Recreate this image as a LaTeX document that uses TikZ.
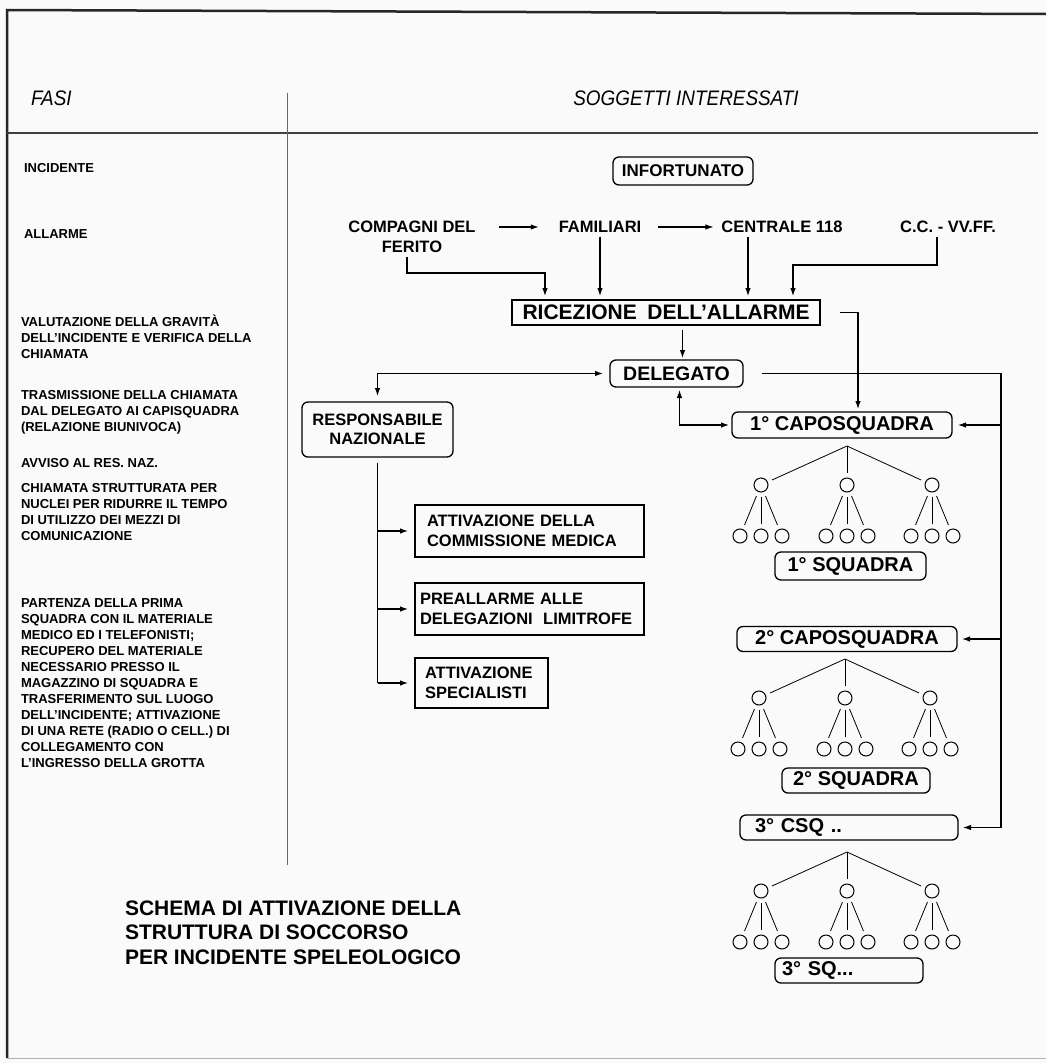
\documentclass[tikz,border=0pt]{standalone}
\usepackage{fontspec}
\setmainfont{Liberation Sans}
\newfontfamily\hdrfont{Liberation Sans}[FakeStretch=0.9]
\usetikzlibrary{arrows.meta,calc}
\begin{document}
\begin{tikzpicture}[x=1pt,y=-1pt,
  every node/.style={inner sep=0pt, outer sep=0pt},
  rbox/.style={draw, line width=1.3pt, rounded corners=6pt, font=\bfseries\fontsize{20}{22}\selectfont},
  sbox/.style={draw, line width=1.1pt, align=left, font=\bfseries\fontsize{16.5}{20}\selectfont},
  conn/.style={line width=1.1pt, -{Latex[length=8pt,width=5.5pt]}},
  dconn/.style={line width=1.1pt, {Latex[length=8pt,width=5.5pt]}-{Latex[length=8pt,width=5.5pt]}},
  plainline/.style={line width=1.1pt},
  leaf/.style={draw, circle, line width=1pt, minimum size=14pt},
  tl/.style={line width=0.8pt},
  phase/.style={anchor=north west, align=left, font=\bfseries\fontsize{13}{16}\selectfont},
  lbl/.style={font=\bfseries\fontsize{16.5}{20}\selectfont, align=center},
  hdr/.style={font=\hdrfont\itshape\fontsize{21}{24}\selectfont},
]
\useasboundingbox (0,0) rectangle (1046,1063);
\fill[white!98!black] (0,0) rectangle (1046,1063);
% frame
\draw[line width=2.5pt, black!85] (7,1058) -- (7,10) -- (1046,14);
\draw[line width=1pt, black!30] (7,1058) -- (1046,1058);
\draw[line width=1.4pt, black!75] (7,133) -- (1038,133);
\draw[line width=0.8pt, black!60] (287,93) -- (287,865);
% headers
\node[hdr, anchor=base west] (fasi) at (31,105) {FASI};
\node[hdr, anchor=base] (sogg) at (686,105) {SOGGETTI INTERESSATI};
% phases
\node[anchor=base west, font=\bfseries\fontsize{13}{16}\selectfont] (inc) at (24,172.5) {INCIDENTE};
\node[anchor=base west, font=\bfseries\fontsize{13}{16}\selectfont] (all) at (24,238.5) {ALLARME};
\node[phase] (ph1) at (21,314.8) {\strut VALUTAZIONE DELLA GRAVITÀ\\DELL'INCIDENTE E VERIFICA DELLA\\CHIAMATA};
\node[phase] (ph2) at (21,387.8) {\strut TRASMISSIONE DELLA CHIAMATA\\DAL DELEGATO AI CAPISQUADRA\\(RELAZIONE BIUNIVOCA)};
\node[anchor=base west, font=\bfseries\fontsize{13}{16}\selectfont] (ph3) at (21,467) {AVVISO AL RES. NAZ.};
\node[phase] (ph4) at (21,481.3) {\strut CHIAMATA STRUTTURATA PER\\NUCLEI PER RIDURRE IL TEMPO\\DI UTILIZZO DEI MEZZI DI\\COMUNICAZIONE};
\node[phase] (ph5) at (21,595.8) {\strut PARTENZA DELLA PRIMA\\SQUADRA CON IL MATERIALE\\MEDICO ED I TELEFONISTI;\\RECUPERO DEL MATERIALE\\NECESSARIO PRESSO IL\\MAGAZZINO DI SQUADRA E\\TRASFERIMENTO SUL LUOGO\\DELL'INCIDENTE; ATTIVAZIONE\\DI UNA RETE (RADIO O CELL.) DI\\COLLEGAMENTO CON\\L'INGRESSO DELLA GROTTA};
% title
\node[anchor=north west, align=left, font=\bfseries\fontsize{21}{24.5}\selectfont] (title) at (125,898.3) {\strut SCHEMA DI ATTIVAZIONE DELLA\\STRUTTURA DI SOCCORSO\\PER INCIDENTE SPELEOLOGICO};
% top
\node[rbox, minimum width=140pt, minimum height=28pt, font=\bfseries\fontsize{17}{20}\selectfont] (inf) at (683,171) {INFORTUNATO};
\node[lbl] (comp) at (412,237) {COMPAGNI DEL\\FERITO};
\node[lbl] (fam) at (600,227) {FAMILIARI};
\node[lbl] (cent) at (782,227) {CENTRALE 118};
\node[lbl] (cc) at (948,227) {C.C. - VV.FF.};
\node[draw, line width=1.3pt, minimum width=308pt, minimum height=25pt, font=\bfseries\fontsize{21}{24}\selectfont] (ric) at (666,312.5) {RICEZIONE\hspace{0.5em}DELL'ALLARME};
\node[rbox, minimum width=133pt, minimum height=27pt, font=\bfseries\fontsize{19.5}{22}\selectfont] (del) at (676.5,373.5) {DELEGATO};
\node[rbox, minimum width=151pt, minimum height=55pt, font=\bfseries\fontsize{16.5}{18.5}\selectfont, align=center] (resp) at (377.5,429.5) {RESPONSABILE\\NAZIONALE};
\node[sbox, inner xsep=12pt, text width=205pt, minimum height=52pt] (com) at (529.5,531) {ATTIVAZIONE DELLA\\COMMISSIONE MEDICA};
\node[sbox, inner xsep=5pt, text width=219pt, minimum height=52pt] (pre) at (529.5,609) {PREALLARME ALLE\\DELEGAZIONI\hspace{0.3em} LIMITROFE};
\node[sbox, inner xsep=10pt, text width=113pt, minimum height=50pt] (spec) at (481.5,683) {ATTIVAZIONE\\SPECIALISTI};
\node[rbox, minimum width=220pt, minimum height=26pt] (capo1) at (842,425) {1° CAPOSQUADRA};
\node[rbox, minimum width=151pt, minimum height=28pt] (sq1) at (850.5,566) {1° SQUADRA};
\node[rbox, minimum width=220pt, minimum height=25pt] (capo2) at (847,639) {2° CAPOSQUADRA};
\node[rbox, minimum width=148pt, minimum height=25pt] (sq2) at (856,780.5) {2° SQUADRA};
\node[rbox, inner xsep=15pt, text width=188pt, align=left, minimum height=25pt] (csq3) at (849,827.5) {3° CSQ ..};
\node[rbox, inner xsep=7pt, text width=134pt, align=left, minimum height=25pt] (sq3) at (849,970.5) {3° SQ...};
% alarm arrows
\draw[conn, shorten <=23pt, shorten >=20pt] (comp.east |- fam.center) -- (fam.west);
\draw[conn, shorten <=17pt, shorten >=8pt] (fam.east) -- (cent.west);
\draw[conn, shorten >=4pt] ($(comp.south)+(-5,4)$) |- ($(ric.north west)+(33,-27)$) -- ($(ric.north west)+(33,0)$);
\draw[conn, shorten <=4pt, shorten >=4pt] (fam.south) -- (fam.south |- ric.north);
\draw[conn, shorten <=4pt, shorten >=4pt] ($(cent.south)+(-34,0)$) -- ($(cent.south |- ric.north)+(-34,0)$);
\draw[conn, shorten <=4pt, shorten >=4pt] ($(cc.south)+(-11,0)$) |- ($(ric.north east)+(-27,-35)$) -- ($(ric.north east)+(-27,0)$);
% ricezione / delegato
\draw[conn, shorten <=5pt, shorten >=2pt] ($(del.north |- ric.south)+(6,0)$) -- ($(del.north)+(6,0)$);
\draw[conn, shorten >=3pt] ($(ric.east)+(20,0)$) -| ($(capo1.north)+(16,0)$);
\draw[dconn, shorten <=6pt, shorten >=7pt] (resp.north) |- (del.west);
\draw[dconn, shorten <=3pt, shorten >=3pt] ($(del.south)+(3,0)$) |- (capo1.west);
\coordinate (rx) at (1001,0);
\draw[conn, shorten >=5pt] ($(del.east)+(19,0)$) -| (rx |- csq3.east) -- (csq3.east);
\draw[conn, shorten >=6pt] (rx |- capo1.east) -- (capo1.east);
\draw[conn, shorten >=5pt] (rx |- capo2.east) -- (capo2.east);
% responsabile
\draw[plainline] ($(resp.south)+(0,6)$) -- (resp.south |- spec.west);
\draw[conn, shorten >=7pt] (resp.south |- com.west) -- (com.west);
\draw[conn, shorten >=7pt] (resp.south |- pre.west) -- (pre.west);
\draw[conn, shorten >=7pt] (resp.south |- spec.west) -- (spec.west);
% trees
\foreach \t/\cx/\r in {1/847/446, 2/845/659, 3/847/852} {
  \coordinate (root\t) at (\cx,\r);
  \foreach \i/\dx in {a/-86, b/0, c/85} {
    \node[leaf] (n\t\i) at (\cx+\dx,\r+39) {};
    \draw[tl, shorten >=5pt] (root\t) -- (n\t\i);
    \foreach \j/\ex in {1/-21, 2/0, 3/21} {
      \node[leaf] (n\t\i\j) at (\cx+\dx+\ex,\r+90) {};
      \draw[tl, shorten <=5pt, shorten >=5pt] (n\t\i) -- (n\t\i\j);
    }
  }
}
\end{tikzpicture}
\end{document}
